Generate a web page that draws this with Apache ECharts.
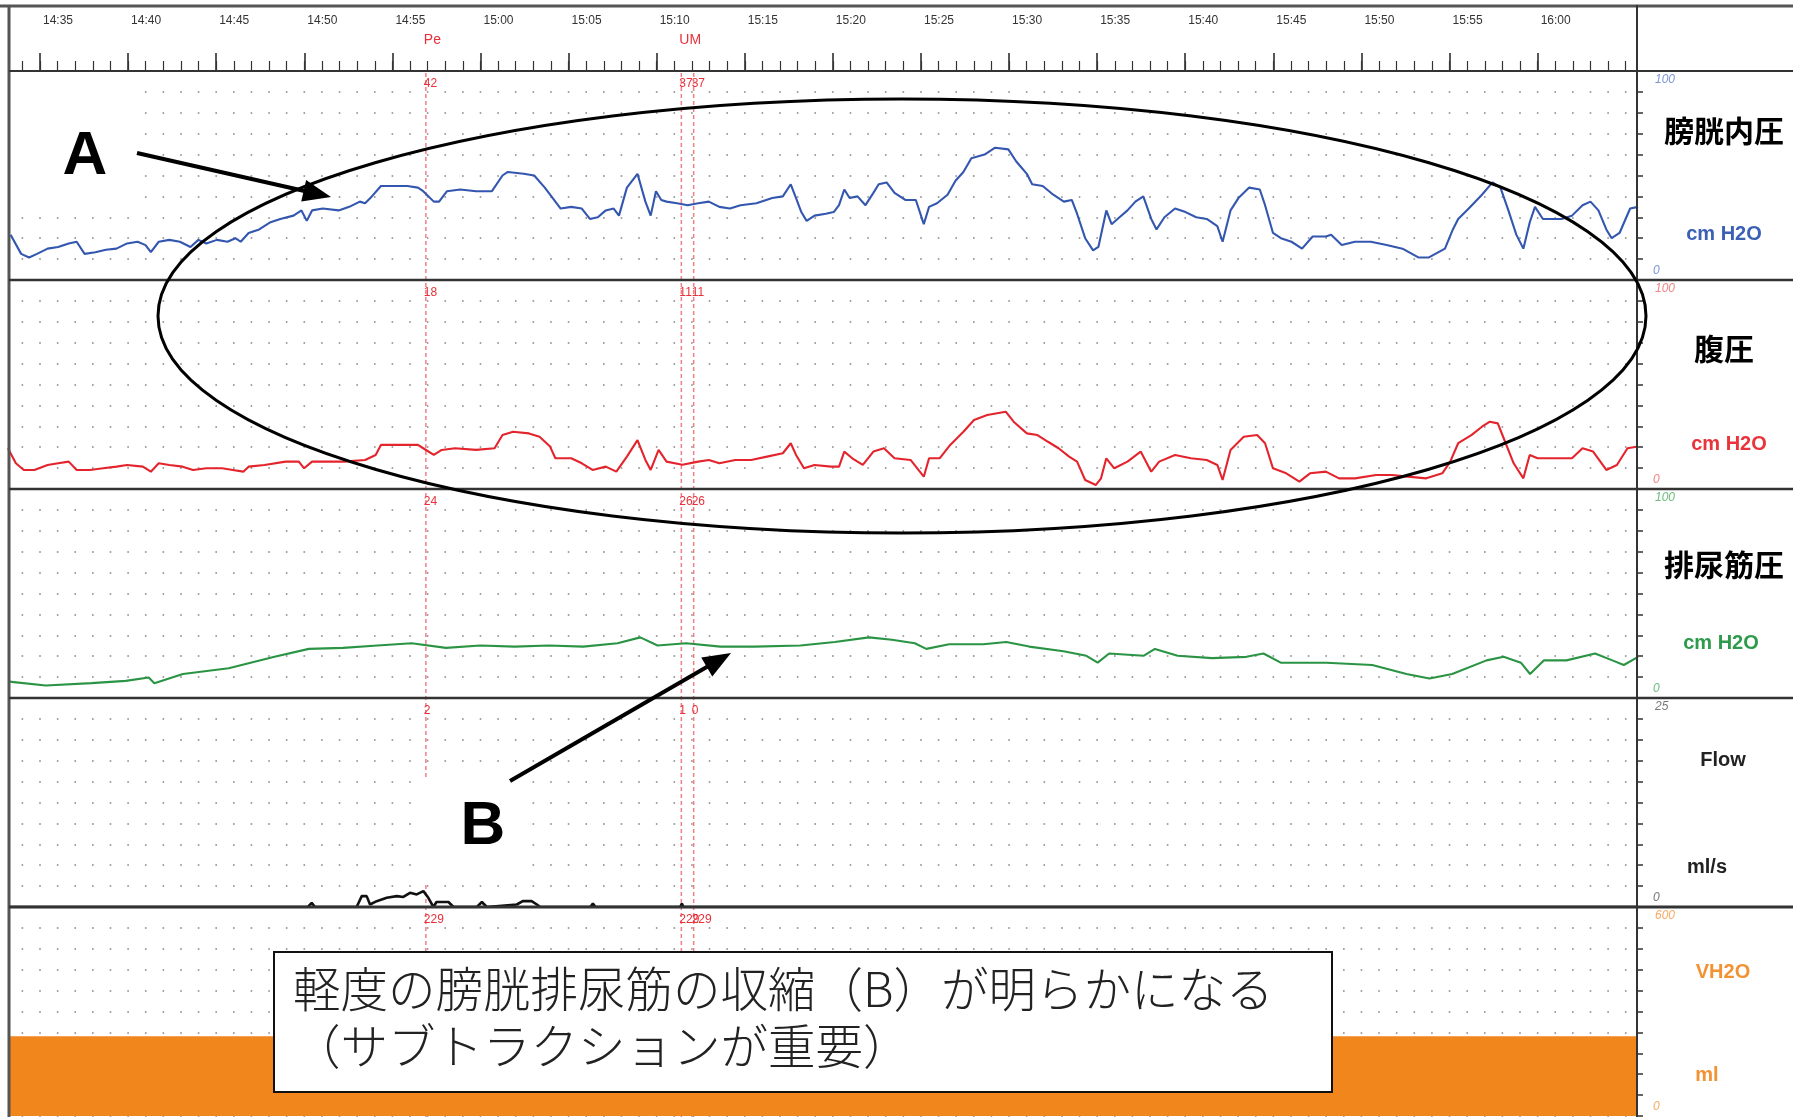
<!DOCTYPE html>
<html>
<head>
<meta charset="utf-8">
<script src="https://cdn.jsdelivr.net/npm/echarts@6/dist/echarts.min.js"></script>
<style>
  html, body { margin: 0; padding: 0; background: #fff; }
  #chart { width: 1793px; height: 1117px; }
</style>
</head>
<body>
<div id="chart"></div>
<script>
// Time is given in minutes after 14:00.
const tickMinutes = [35, 40, 45, 50, 55, 60, 65, 70, 75, 80, 85, 90, 95, 100, 105, 110, 115, 120];
const tickLabels = ['14:35', '14:40', '14:45', '14:50', '14:55', '15:00', '15:05', '15:10', '15:15',
                    '15:20', '15:25', '15:30', '15:35', '15:40', '15:45', '15:50', '15:55', '16:00'];

const channelNames = ['膀胱内圧', '腹圧', '排尿筋圧', 'Flow', 'VH2O'];
const channelUnits = ['cm H2O', 'cm H2O', 'cm H2O', 'ml/s', 'ml'];
const channelMax = [100, 100, 100, 25, 600];

// Pves (cm H2O)
const bladderPressure = [
  [33.33,21.7],[33.93,12.5],[34.38,10.8],[34.83,12.5],[35.43,15],[36.03,15.8],[36.63,17.5],[37.08,18.3],
  [37.53,12.5],[38.14,13.3],[38.74,14.5],[39.34,15],[39.94,17.5],[40.54,18.3],[40.99,16.7],[41.29,13.3],
  [41.74,18.3],[42.34,19.2],[42.94,18.3],[43.54,15.8],[43.99,19.2],[44.44,17.5],[45.04,19.2],[45.64,18.3],
  [46.09,20],[46.39,18.3],[46.84,22.5],[47.44,24.2],[48.04,27.5],[48.64,29.2],[49.39,30.8],[49.84,33.3],
  [50.14,28.3],[50.44,33.3],[51.05,34.2],[51.95,33.3],[52.55,35],[53.15,37.5],[53.45,36.7],[53.75,39.2],
  [54.35,45],[54.95,45],[55.85,45],[56.45,44.2],[56.75,42.5],[57.35,37.5],[57.65,37.5],[58.1,42.5],
  [58.85,43.3],[59.75,42.5],[60.65,42.5],[61.25,50],[61.55,51.7],[62.45,50.8],[63.05,50],[63.65,44.2],
  [64.1,39.2],[64.55,34.2],[65.15,35],[65.75,34.2],[66.21,29.2],[66.66,30],[67.11,33.3],[67.56,34.2],
  [67.86,30.8],[68.31,44.2],[68.91,50.8],[69.36,37.5],[69.66,30.8],[69.96,42.5],[70.26,38.3],[70.56,37.5],
  [71.16,36.7],[71.76,35.8],[72.36,36.7],[72.96,37.5],[73.56,35],[74.16,34.2],[74.76,35.8],[75.66,36.7],
  [76.56,39.2],[77.16,40],[77.61,45.8],[77.91,39.2],[78.21,32.5],[78.51,28.3],[78.96,30.8],[79.6,31.7],
  [80.05,32.5],[80.35,35.8],[80.65,43.3],[80.95,39.2],[81.4,40],[81.85,35.8],[82.3,41.7],[82.6,45.8],
  [83.05,46.7],[83.5,41.7],[84.11,38.3],[84.71,38.3],[85.16,26.7],[85.46,35],[85.91,36.7],[86.51,40.8],
  [86.96,47.5],[87.41,51.7],[87.86,58.3],[88.61,60],[89.21,63.3],[89.96,62.5],[90.41,56.7],[91.01,50.8],
  [91.31,45.8],[91.91,45],[92.51,40.8],[93.11,37.5],[93.56,38.3],[93.86,31.7],[94.32,20],[94.77,14.2],
  [95.07,15.8],[95.52,33.3],[95.82,26.7],[96.27,30],[96.72,33.3],[97.17,37.5],[97.62,40],[98.07,29.2],
  [98.37,24.2],[98.82,30],[99.42,34.2],[100.02,32.5],[100.62,30],[101.22,29.2],[101.82,25.8],[102.12,18.3],
  [102.57,33.3],[103.02,39.2],[103.63,44.2],[104.23,43.3],[104.53,35.8],[104.98,22.5],[105.43,20],[106.03,18.3],
  [106.63,15],[107.23,20.8],[107.98,20.8],[108.28,21.7],[108.88,16.7],[109.63,18.3],[110.53,18.3],[111.43,16.7],
  [112.33,15],[113.23,10.8],[113.83,10.8],[114.74,15],[115.19,24.2],[115.49,29.2],[116.09,34.2],[116.84,40.8],
  [117.44,46.7],[117.89,44.2],[118.34,33.3],[118.79,21.7],[119.19,15],[119.55,27.5],[119.85,35],[120.3,29.2],
  [120.75,29.2],[121.35,29.2],[121.95,30.8],[122.55,35.8],[123,37.5],[123.45,33.3],[123.9,24.2],[124.2,20],
  [124.65,22.5],[125.25,34.2],[125.7,35]
];

// Pabd (cm H2O)
const abdominalPressure = [
  [33.18,19.5],[33.63,12.3],[34.08,9.1],[34.68,9.1],[35.43,11.5],[36.03,12.3],[36.63,13.1],[37.08,9.1],
  [37.83,9.1],[38.58,9.9],[39.34,10.7],[39.94,11.5],[40.84,10.7],[41.29,8.3],[41.74,12.3],[42.34,11.5],
  [43.09,10.7],[43.69,9.1],[44.44,9.9],[45.34,9.9],[45.94,9.1],[46.54,8.3],[46.84,10.7],[47.74,11.5],
  [48.94,13.1],[49.69,13.1],[49.99,9.9],[50.44,13.1],[51.35,13.1],[52.25,13.1],[53.45,13.9],[54.05,16.3],
  [54.35,21.1],[55.25,21.1],[56.45,21.1],[56.75,19.5],[57.35,16.3],[57.8,18.7],[58.55,19.5],[59.75,18.7],
  [60.8,19.5],[61.25,25.8],[61.85,27.4],[62.75,26.6],[63.35,25],[63.95,20.3],[64.25,14.7],[65.15,14.7],
  [65.75,12.3],[66.36,9.1],[67.11,10.7],[67.71,8.3],[68.31,15.5],[68.91,23.4],[69.36,13.9],[69.66,9.1],
  [70.11,18.7],[70.56,13.1],[71.46,11.6],[72.36,13.1],[72.96,13.9],[73.56,12.3],[74.46,13.9],[75.36,13.9],
  [76.26,15.5],[77.16,17.1],[77.61,21.9],[77.91,16.3],[78.36,9.9],[78.96,11.5],[79.9,10.7],[80.35,10.7],
  [80.65,17.9],[81.1,14.7],[81.7,11.5],[82.3,17.9],[82.9,19.5],[83.5,14.7],[84.41,13.9],[85.16,5.9],
  [85.46,14.7],[86.06,14.7],[86.66,21.1],[87.41,27.4],[88.01,33],[88.76,35.4],[89.81,37],[90.26,32.2],
  [91.01,26.6],[91.61,25.8],[92.21,22.6],[92.81,19.5],[93.41,15.5],[93.86,13.1],[94.32,4.3],[94.92,1.9],
  [95.22,5.1],[95.52,14.7],[95.97,9.9],[96.72,13.1],[97.47,17.9],[98.07,8.3],[98.52,13.1],[99.42,16.3],
  [100.32,14.7],[101.22,13.9],[101.82,11.5],[102.12,4.3],[102.57,18.7],[103.32,25],[104.08,25.8],[104.53,21.9],
  [104.98,9.9],[105.73,7.5],[106.48,3.5],[107.08,7.5],[107.98,8.3],[108.73,5.1],[109.63,5.1],[110.83,6.7],
  [111.73,6.7],[112.63,5.9],[113.68,5.1],[114.59,7.5],[115.04,13.1],[115.49,21.9],[116.24,25.8],[116.84,29.8],
  [117.29,32.2],[117.74,31.4],[118.04,25],[118.64,12.3],[119.19,5.1],[119.55,16.3],[120,14.7],[120.75,14.7],
  [121.95,14.7],[122.55,19.5],[123.15,17.9],[123.9,9.1],[124.5,11.5],[125.1,19.5],[125.7,20.3]
];

// Pdet (cm H2O)
const detrusorPressure = [
  [33.2,8.2],[33.38,7.7],[35.33,6],[37.92,7.1],[39.87,8.2],[41.17,9.8],[41.49,7.1],[43.11,11.5],[45.71,14.2],
  [48.31,19.7],[50.26,23.5],[52.2,24],[54.15,25.1],[56.09,26.2],[58.04,24],[59.99,25.1],[61.94,24.6],
  [63.88,25.1],[65.83,24.6],[67.78,26.2],[69.07,29],[70.05,25.1],[71.67,26.2],[73.62,24.6],[75.57,24.6],
  [78.16,25.1],[80.11,26.8],[82.05,29],[83.35,27.9],[84.65,26.2],[85.3,23.5],[86.6,25.7],[88.54,25.7],
  [89.84,26.8],[91.14,24.6],[93.09,22.4],[94.39,20.2],[95.03,16.9],[95.68,21.3],[97.63,20.2],[98.28,23.5],
  [99.57,20.2],[101.52,19.1],[103.47,19.7],[104.44,21.3],[105.42,16.9],[108.01,16.9],[110.61,15.8],
  [112.56,11.5],[113.86,9.3],[115.15,11.5],[117.1,18],[118.07,19.7],[119.05,16.9],[119.57,11.5],[120.35,18],
  [121.64,18],[123.26,21.3],[124.24,18],[124.89,15.8],[125.7,19.7]
];

// Flow (ml/s)
const flowRate = [
  [33.2,0],[50.2,0],[50.42,0.5],[50.61,0],[52.97,0],[53.26,1.3],[53.54,1.3],[53.73,0.3],[54.11,0.7],
  [54.68,1.1],[55.25,1.3],[55.62,1.2],[56.0,1.7],[56.38,1.5],[56.76,1.9],[57.04,1.1],[57.33,0],[57.5,0.6],
  [58.18,0.6],[58.47,0],[59.79,0],[60.08,0.6],[60.36,0],[62.06,0.3],[62.4,0.7],[62.9,0.7],[63.2,0.3],
  [63.39,0],[66.23,0],[66.38,0.4],[66.53,0],[71.33,0],[71.43,0.4],[71.52,0],[125.7,0]
];

// Infused volume (ml)
const infusedVolume = [[33.2, 229], [125.7, 229]];

// Event markers and the values printed beside them, one per channel
const markerTimes = [56.9, 71.4, 72.1];
const markerNames = ['Pe', 'UM', ''];
const markerValues = [
  ['42', '18', '24', '2', '229'],
  ['37', '11', '26', '1', '229'],
  ['37', '11', '26', '0', '229']
];

// ---- layout ----
const X_MIN = 33.24, X_MAX = 125.64;
const PLOT_L = 9, PLOT_R = 1637, PANEL_TOP = 71, PANEL_H = 209;
const PLOT_W = PLOT_R - PLOT_L;
const FULL_W = 1793, FULL_H = 1117;

const traceColors = ['#3356ae', '#e4242d', '#2a9444', '#111111', '#f0861c'];
const scaleColors = ['#7d96d4', '#ef8585', '#6dbd7d', '#777777', '#f4ac66'];
const unitColors = ['#3b60b6', '#e8343a', '#2e9a4c', '#222222', '#f29233'];
const seriesData = [bladderPressure, abdominalPressure, detrusorPressure, flowRate, infusedVolume];
const narrow = "'Liberation Sans Narrow', 'Liberation Sans', Arial, sans-serif";
const jp = "'Noto Sans CJK JP', 'Noto Sans', sans-serif";

// dotted grid: one dot at every whole minute on every tenth of a scale
const pxPerMin = PLOT_W / (X_MAX - X_MIN);
const dotLen = 1.6;
const firstMinRel = (Math.ceil(X_MIN) - X_MIN) * pxPerMin;
const dotOffset = pxPerMin - (firstMinRel - dotLen / 2);

const minuteTicks = [];
for (let m = Math.ceil(X_MIN); m <= Math.floor(X_MAX); m++) minuteTicks.push(m);

const grids = [], xAxes = [], yAxes = [], series = [];
for (let i = 0; i < 5; i++) {
  grids.push({ left: PLOT_L, width: PLOT_W, top: PANEL_TOP + i * PANEL_H, height: PANEL_H,
               outerBoundsMode: 'none', containLabel: false });
  xAxes.push(i === 0 ? {
    type: 'value', gridIndex: 0, position: 'top', min: X_MIN, max: X_MAX,
    axisLine: { show: true, onZero: false, lineStyle: { color: '#333', width: 2 } },
    axisTick: { show: true, customValues: tickMinutes, length: 18, lineStyle: { color: '#222', width: 1.5 } },
    axisLabel: { show: true, customValues: tickMinutes, margin: 44, color: '#333', fontSize: 12,
                 fontFamily: narrow, align: 'left', padding: [0, 0, 0, 3],
                 formatter: v => tickLabels[tickMinutes.indexOf(Math.round(v))] || '' },
    splitLine: { show: false }
  } : {
    type: 'value', gridIndex: i, min: X_MIN, max: X_MAX, show: false,
    axisLine: { onZero: false }
  });
  yAxes.push({
    type: 'value', gridIndex: i, position: 'right', min: 0, max: channelMax[i],
    interval: channelMax[i] / 10,
    axisLine: { show: false, onZero: false },
    axisTick: { show: true, length: 6, lineStyle: { color: '#333', width: 1.5 } },
    axisLabel: { show: false },
    splitLine: { show: true, lineStyle: { color: '#858585', width: 1.6, type: [dotLen, pxPerMin - dotLen],
                                          dashOffset: dotOffset } }
  });
  const s = {
    type: 'line', xAxisIndex: i, yAxisIndex: i, data: seriesData[i], showSymbol: false,
    symbol: 'none', lineStyle: { color: traceColors[i], width: i === 3 ? 2.6 : 2.1 },
    z: 3, silent: true
  };
  if (i === 4) {
    s.lineStyle = { width: 0, color: traceColors[4] };
    s.areaStyle = { color: traceColors[4], opacity: 1 };
  }
  series.push(s);
}
// minute ticks on the top ruler
xAxes.push({
  type: 'value', gridIndex: 0, position: 'top', min: X_MIN, max: X_MAX,
  axisLine: { show: false, onZero: false },
  axisTick: { show: true, customValues: minuteTicks, length: 10, lineStyle: { color: '#333', width: 1.2 } },
  axisLabel: { show: false }, splitLine: { show: false }
});

const chart = echarts.init(document.getElementById('chart'), null, { renderer: 'canvas' });
chart.setOption({
  animation: false,
  backgroundColor: '#ffffff',
  grid: grids, xAxis: xAxes, yAxis: yAxes, series: series
});

// ---- overlay drawing ----
const g = [];
const line = (x1, y1, x2, y2, color, width, z, dash) => g.push({
  type: 'line', shape: { x1, y1, x2, y2 }, z: z || 5, silent: true,
  style: { stroke: color, lineWidth: width, lineDash: dash || null }
});
const text = (x, y, str, style, z) => g.push({
  type: 'text', x, y, z: z || 20, silent: true,
  style: Object.assign({ text: str, textAlign: 'center', textVerticalAlign: 'middle' }, style)
});

// frame
line(0, 6, FULL_W, 6, '#555', 3, 30);
line(PLOT_L, 5, PLOT_L, FULL_H, '#555', 3, 30);
line(PLOT_R, 5, PLOT_R, FULL_H, '#333', 2, 30);
line(PLOT_L, PANEL_TOP, FULL_W, PANEL_TOP, '#333', 2, 30);
for (let i = 1; i < 5; i++) {
  const y = PANEL_TOP + i * PANEL_H;
  line(PLOT_L, y, FULL_W, y, '#333', i === 4 ? 3 : 2.5, 30);
}

// event markers
markerTimes.forEach((t, k) => {
  const x = chart.convertToPixel({ xAxisIndex: 0 }, t);
  line(x, PANEL_TOP + 2, x, FULL_H, '#f07f86', 1.5, 2, [4, 3]);
  if (markerNames[k]) {
    text(x - 2, 40, markerNames[k], { textAlign: 'left', fill: '#e8303a', fontSize: 14, fontFamily: narrow });
  }
  for (let i = 0; i < 5; i++) {
    text(x - 2, PANEL_TOP + i * PANEL_H + 13, markerValues[k][i],
         { textAlign: 'left', fill: '#e8303a', fontSize: 12, fontFamily: narrow }, 22);
  }
});

// scale end labels and channel titles on the right
for (let i = 0; i < 5; i++) {
  const top = chart.convertToPixel({ yAxisIndex: i }, channelMax[i]);
  const bot = chart.convertToPixel({ yAxisIndex: i }, 0);
  const st = { textAlign: 'left', fill: scaleColors[i], fontSize: 12, fontStyle: 'italic', fontFamily: narrow };
  text(PLOT_R + 18, top + 3, String(channelMax[i]), Object.assign({}, st, { textVerticalAlign: 'top' }));
  text(PLOT_R + 16, bot - 3, '0', Object.assign({}, st, { textVerticalAlign: 'bottom' }));
}
const titleX = [1724, 1724, 1724, 1723, 1723];
const titleY = [131, 349, 565, 760, 972];
const unitX = [1724, 1729, 1721, 1707, 1707];
const unitY = [234, 444, 643, 867, 1075];
for (let i = 0; i < 5; i++) {
  if (i < 3) {
    text(titleX[i], titleY[i], channelNames[i], { fill: '#000', fontSize: 30, fontWeight: 'bold', fontFamily: jp });
  } else {
    text(titleX[i], titleY[i], channelNames[i], { fill: i === 3 ? '#222' : unitColors[4], fontSize: 20,
         fontWeight: 'bold', fontFamily: "'Liberation Sans', Arial, sans-serif" });
  }
  text(unitX[i], unitY[i], channelUnits[i], { fill: unitColors[i], fontSize: 20, fontWeight: 'bold',
       fontFamily: "'Liberation Sans', Arial, sans-serif" });
}

// annotations: ellipse, arrows, letters, caption
g.push({ type: 'rect', shape: { x: 11, y: 78, width: 129, height: 127 }, z: 40, silent: true,
         style: { fill: '#fff' } });
g.push({ type: 'rect', shape: { x: 413, y: 780, width: 117, height: 103 }, z: 40, silent: true,
         style: { fill: '#fff' } });
g.push({ type: 'ellipse', shape: { cx: 902, cy: 316, rx: 744, ry: 217 }, z: 60, silent: true,
         style: { fill: 'none', stroke: '#000', lineWidth: 3 } });

function arrow(x1, y1, x2, y2) {
  const len = Math.hypot(x2 - x1, y2 - y1);
  const ux = (x2 - x1) / len, uy = (y2 - y1) / len;
  const hl = 28, hw = 11;
  const bx = x2 - ux * hl, by = y2 - uy * hl;
  line(x1, y1, bx + ux * 2, by + uy * 2, '#000', 4, 61);
  g.push({ type: 'polygon', z: 61, silent: true,
           shape: { points: [[x2, y2], [bx - uy * hw, by + ux * hw], [bx + uy * hw, by - ux * hw]] },
           style: { fill: '#000' } });
}
arrow(137, 153, 331, 197);
arrow(510, 781, 731, 653);
text(85, 157, 'A', { fill: '#000', fontSize: 62, fontWeight: 'bold', fontFamily: "'Liberation Sans', Arial, sans-serif" }, 62);
text(483, 827, 'B', { fill: '#000', fontSize: 62, fontWeight: 'bold', fontFamily: "'Liberation Sans', Arial, sans-serif" }, 62);

g.push({ type: 'rect', shape: { x: 274, y: 952, width: 1058, height: 140 }, z: 70, silent: true,
         style: { fill: '#fff', stroke: '#111', lineWidth: 2 } });
text(293, 989, '軽度の膀胱排尿筋の収縮（B）が明らかになる',
     { textAlign: 'left', fill: '#222', fontSize: 47.5, fontWeight: 300, fontFamily: jp }, 71);
text(293, 1046, '（サブトラクションが重要）',
     { textAlign: 'left', fill: '#222', fontSize: 47.5, fontWeight: 300, fontFamily: jp }, 71);

chart.setOption({ graphic: { elements: g } });
</script>
</body>
</html>
